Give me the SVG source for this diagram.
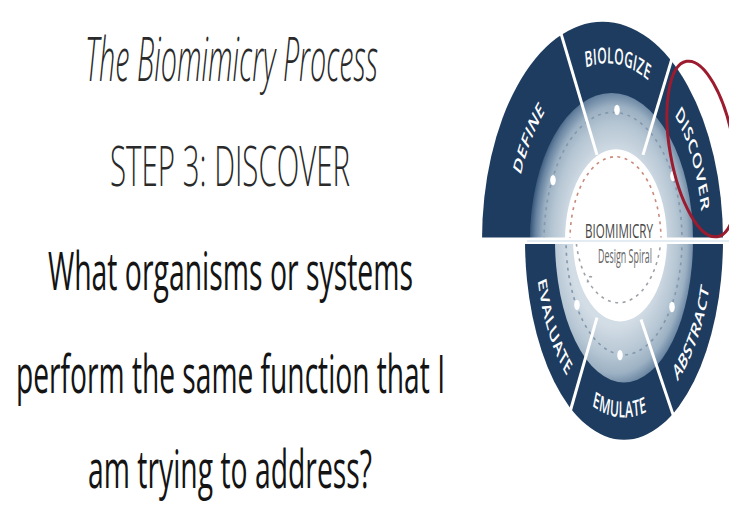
<svg xmlns="http://www.w3.org/2000/svg" width="729" height="512" viewBox="0 0 729 512">
  <defs>
    <!-- shading of the inner ring, in the spiral's local (unstretched) coordinates -->
    <radialGradient id="ringShade" gradientUnits="userSpaceOnUse" cx="615" cy="0" r="84">
      <stop offset="0.55" stop-color="#d3dde6"/>
      <stop offset="0.74" stop-color="#b7c7d4"/>
      <stop offset="0.86" stop-color="#9cb1c3"/>
      <stop offset="0.95" stop-color="#6682a0"/>
      <stop offset="1" stop-color="#3f5e80"/>
    </radialGradient>
    <!-- label baselines: upper half runs clockwise, lower half counter-clockwise -->
    <path id="arc-define" d="M 514 0 A 93 93 0 0 1 575.2 -87.4"/>
    <path id="arc-biologize" d="M 560.7 -83.5 A 95.5 95.5 0 0 1 670.9 -71"/>
    <path id="arc-discover" d="M 661.8 -78.2 A 95.5 95.5 0 0 1 702.5 1.7"/>
    <path id="arc-evaluate" d="M 535.6 3.4 A 88.5 96 0 0 0 582.4 84.8"/>
    <path id="arc-emulate" d="M 575.8 80.5 A 88.5 96 0 0 0 664.2 85.5"/>
    <path id="arc-abstract" d="M 661.4 87 A 88.5 96 0 0 0 712.3 6.7"/>
  </defs>
  <style>
    .lead { font-family: "Open Sans", "Liberation Sans", sans-serif; font-weight: 300; fill: #2a2a2a; text-anchor: middle; }
    .question { font-weight: 400; fill: #141414; }
    .band { fill: #1e3c5f; }
    .ring { fill: url(#ringShade); }
    .core { fill: #ffffff; }
    .label { font-family: "Open Sans", "Liberation Sans", sans-serif; font-size: 12px; font-weight: 600; fill: #ffffff; letter-spacing: 0.2px; }
    .divider { stroke: #ffffff; stroke-width: 3; vector-effect: non-scaling-stroke; }
    .dash-outer { fill: none; stroke: #8397ad; stroke-width: 1.6; stroke-dasharray: 3 4.5; vector-effect: non-scaling-stroke; }
    .dash-inner-top { fill: none; stroke: #c98a7c; stroke-width: 1.6; stroke-dasharray: 3 4.5; vector-effect: non-scaling-stroke; }
    .dash-inner-low { fill: none; stroke: #9ea3aa; stroke-width: 1.6; stroke-dasharray: 3 4.5; vector-effect: non-scaling-stroke; }
    .stop { fill: #ffffff; }
    .center-title { font-family: "Open Sans", "Liberation Sans", sans-serif; font-size: 11px; fill: #474747; text-anchor: middle; }
    .center-sub { font-family: "Open Sans", "Liberation Sans", sans-serif; font-size: 10.5px; fill: #666666; text-anchor: middle; }
  </style>

  <rect width="729" height="512" fill="#ffffff"/>

  <!-- left column of text -->
  <g id="heading">
    <text class="lead" font-style="italic" font-size="32" transform="translate(231.5,81) scale(1,1.9)" textLength="293" lengthAdjust="spacingAndGlyphs">The Biomimicry Process</text>
  </g>
  <g id="step">
    <text class="lead" font-size="28.7" transform="translate(230,186) scale(1,1.9)" textLength="240" lengthAdjust="spacingAndGlyphs">STEP 3: DISCOVER</text>
  </g>
  <g id="question">
    <text class="lead question" font-size="28" transform="translate(230.5,290) scale(1,1.9)" textLength="365" lengthAdjust="spacingAndGlyphs">What organisms or systems</text>
    <text class="lead question" font-size="28" transform="translate(230.5,393) scale(1,1.9)" textLength="429" lengthAdjust="spacingAndGlyphs">perform the same function that I</text>
    <text class="lead question" font-size="28" transform="translate(230,488) scale(1,1.9)" textLength="284" lengthAdjust="spacingAndGlyphs">am trying to address?</text>
  </g>

  <!-- design spiral, drawn round the axis y=240 and stretched vertically -->
  <g id="spiral" transform="translate(0,240) scale(1,1.85)">
    <g id="bands">
      <path class="band" d="M 482 0 A 120.5 118 0 0 1 723 0 Z"/>
      <path class="band" d="M 525 0 A 99 108 0 0 0 723 0 Z"/>
      <path class="ring" d="M 530 0 A 81.5 79.5 0 0 1 693 0 Z"/>
      <path class="ring" d="M 555 0 A 69 77 0 0 0 693 0 Z"/>
    </g>

    <g id="connectors">
      <path class="dash-outer" d="M 544 0 A 69 69 0 0 1 682 0"/>
      <path class="dash-outer" d="M 682 0 A 58 62 0 0 1 566 0"/>
      <line class="divider" x1="556.5" y1="-119.8" x2="597" y2="-46"/>
      <line class="divider" x1="675.8" y1="-104.9" x2="643" y2="-46"/>
      <line class="divider" x1="597" y1="42" x2="567.5" y2="97.7"/>
      <line class="divider" x1="641" y1="43" x2="675" y2="97.5"/>
      <ellipse class="stop" cx="617" cy="-70.3" rx="2.8" ry="2.8"/>
      <ellipse class="stop" cx="553" cy="-32.4" rx="2.8" ry="2.8"/>
      <ellipse class="stop" cx="673" cy="-34.6" rx="2.8" ry="2.8"/>
      <ellipse class="stop" cx="577" cy="35.1" rx="2.8" ry="2.8"/>
      <ellipse class="stop" cx="620" cy="62.2" rx="2.8" ry="2.8"/>
      <ellipse class="stop" cx="672" cy="36.2" rx="2.8" ry="2.8"/>
    </g>

    <g id="core">
      <path class="core" d="M 565 0 A 51 49 0 0 1 667 0 A 47 44 0 0 1 573 0 Z"/>
      <path class="dash-inner-top" d="M 570 0 A 45.5 45 0 0 1 661 0"/>
      <path class="dash-inner-low" d="M 661 0 A 43 40 0 0 1 576 0"/>
      <path class="dash-inner-low" d="M 592 20 Q 588 19 587.5 23"/>
    </g>
  </g>

  <!-- white seam across the spiral -->
  <rect x="470" y="237.5" width="259" height="6.5" fill="#ffffff"/>
  <rect x="527" y="240.4" width="202" height="1.2" fill="#cfdfea"/>

  <g transform="translate(0,240) scale(1,1.85)">
    <g id="define"><text class="label"><textPath href="#arc-define" startOffset="50%" text-anchor="middle">DEFINE</textPath></text></g>
    <g id="biologize"><text class="label"><textPath href="#arc-biologize" startOffset="50%" text-anchor="middle">BIOLOGIZE</textPath></text></g>
    <g id="discover"><text class="label"><textPath href="#arc-discover" startOffset="50%" text-anchor="middle">DISCOVER</textPath></text></g>
    <g id="abstract"><text class="label"><textPath href="#arc-abstract" startOffset="50%" text-anchor="middle">ABSTRACT</textPath></text></g>
    <g id="emulate"><text class="label"><textPath href="#arc-emulate" startOffset="50%" text-anchor="middle">EMULATE</textPath></text></g>
    <g id="evaluate"><text class="label"><textPath href="#arc-evaluate" startOffset="50%" text-anchor="middle">EVALUATE</textPath></text></g>
    <g id="center-label">
      <text class="center-title" x="619" y="-1.2" textLength="68" lengthAdjust="spacingAndGlyphs">BIOMIMICRY</text>
      <text class="center-sub" x="625" y="12.2" textLength="54" lengthAdjust="spacingAndGlyphs">Design Spiral</text>
    </g>
  </g>

  <!-- highlight round the current step -->
  <g id="highlight">
    <ellipse cx="702" cy="149" rx="32" ry="89" transform="rotate(-10 702 149)" fill="none" stroke="#9c1b2f" stroke-width="3"/>
  </g>
</svg>
